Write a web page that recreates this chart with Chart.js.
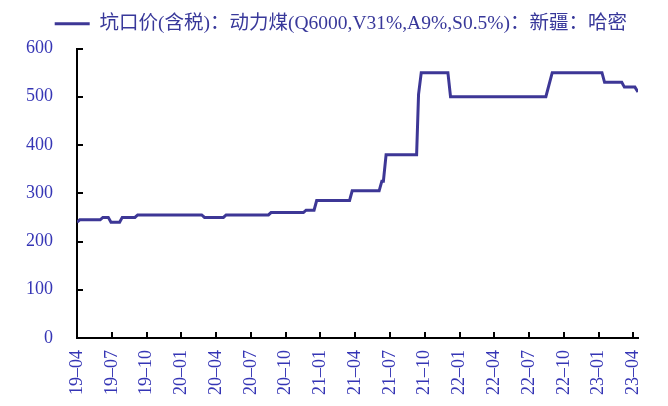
<!DOCTYPE html>
<html>
<head>
<meta charset="utf-8">
<script src="https://cdn.jsdelivr.net/npm/chart.js@4/dist/chart.umd.min.js"></script>
<style>
html,body{margin:0;padding:0;background:#fff;}
#wrap{width:668px;height:406px;position:relative;}
</style>
</head>
<body>
<div id="wrap"><canvas id="c" width="668" height="406"></canvas></div>
<script>
const seriesName = '坑口价(含税)：动力煤(Q6000,V31%,A9%,S0.5%)：新疆：哈密';
const dates = [
 '2019-04-01','2019-04-08','2019-06-01','2019-06-08','2019-06-22','2019-06-29',
 '2019-07-22','2019-07-29','2019-09-01','2019-09-08','2020-02-23','2020-03-01',
 '2020-04-20','2020-04-27','2020-08-17','2020-08-24','2020-11-17','2020-11-24',
 '2020-12-15','2020-12-22','2021-03-17','2021-03-24','2021-06-03','2021-06-10',
 '2021-06-14','2021-06-21','2021-09-10','2021-09-15','2021-09-22','2021-12-01',
 '2021-12-08','2022-08-15','2022-09-01','2023-01-10','2023-01-17','2023-03-01',
 '2023-03-08','2023-04-05','2023-04-13'
];
const prices = [
 240,245,245,250,250,240,
 240,250,250,255,255,250,
 250,255,255,260,260,265,
 265,285,285,305,305,325,
 325,380,380,505,550,550,
 500,500,550,550,530,530,
 520,520,510
];
const yTicks = [0,100,200,300,400,500,600];
const startYear = 2019, startMonth = 4;

function monthIndex(s){
  const p = s.split('-').map(Number);
  const dim = new Date(p[0], p[1], 0).getDate();
  return (p[0]-startYear)*12 + (p[1]-startMonth) + (p[2]-1)/dim;
}
function monthLabel(v){
  const total = startMonth - 1 + Math.round(v);
  const y = startYear + Math.floor(total/12);
  const m = total % 12 + 1;
  return String(y % 100).padStart(2,'0') + '–' + String(m).padStart(2,'0');
}
const points = dates.map((d,i)=>({x: monthIndex(d), y: prices[i]}));

const lineColor = '#3d3796';
const tickColor = '#3535b5';
const tickFont = {family: "'Liberation Serif','Times New Roman',serif", size: 18};

const innerTicks = {
  id: 'innerTicks',
  afterDraw(chart){
    const ctx = chart.ctx, a = chart.chartArea;
    const xs = chart.scales.x, ys = chart.scales.y;
    ctx.save();
    ctx.strokeStyle = '#000';
    ctx.lineWidth = 2;
    ctx.beginPath();
    ys.ticks.forEach(t=>{
      const y = Math.round(ys.getPixelForValue(t.value));
      ctx.moveTo(a.left, y); ctx.lineTo(a.left+6, y);
    });
    xs.ticks.forEach(t=>{
      const x = Math.round(xs.getPixelForValue(t.value));
      ctx.moveTo(x, a.bottom); ctx.lineTo(x, a.bottom-6);
    });
    ctx.stroke();
    ctx.restore();
  }
};

new Chart(document.getElementById('c'), {
  type: 'line',
  data: {
    datasets: [{
      label: seriesName,
      data: points,
      borderColor: lineColor,
      backgroundColor: lineColor,
      borderWidth: 3,
      pointRadius: 0,
      tension: 0,
      fill: false
    }]
  },
  options: {
    responsive: false,
    animation: false,
    layout: {padding: {left: 0, right: 30, top: 3, bottom: 0}},
    plugins: {
      legend: {
        display: true,
        position: 'top',
        align: 'end',
        labels: {
          color: '#38389a',
          font: {family: "'Liberation Serif','Noto Sans CJK SC',serif", size: 19.5},
          boxWidth: 35,
          boxHeight: 3,
          padding: 11,
          generateLabels(chart){
            const items = Chart.defaults.plugins.legend.labels.generateLabels(chart);
            items.forEach(it=>{ it.strokeStyle = 'rgba(0,0,0,0)'; it.lineWidth = 0; });
            return items;
          }
        }
      },
      subtitle: {
        display: true,
        text: '',
        weight: 500,
        font: {size: 1, lineHeight: 1},
        padding: {top: 0, bottom: 4}
      },
      tooltip: {enabled: false}
    },
    scales: {
      x: {
        type: 'linear',
        min: 0,
        max: points[points.length-1].x,
        grid: {display: false, drawTicks: false},
        border: {display: true, color: '#000', width: 2},
        afterBuildTicks(scale){
          scale.ticks = [];
          for (let v = 0; v <= scale.max + 1e-9; v += 3) scale.ticks.push({value: v});
        },
        afterFit(scale){ scale.height = 68; },
        ticks: {
          color: tickColor,
          font: tickFont,
          minRotation: 90,
          maxRotation: 90,
          autoSkip: false,
          padding: 12,
          callback: (v)=>monthLabel(v)
        }
      },
      y: {
        type: 'linear',
        min: 0,
        max: 600,
        grid: {display: false, drawTicks: false},
        border: {display: true, color: '#000', width: 2},
        afterBuildTicks(scale){ scale.ticks = yTicks.map(v=>({value: v})); },
        afterFit(scale){ scale.width = 77; },
        ticks: {
          color: tickColor,
          font: tickFont,
          padding: 24,
          callback: (v)=>String(v)
        }
      }
    }
  },
  plugins: [innerTicks]
});
</script>
</body>
</html>
